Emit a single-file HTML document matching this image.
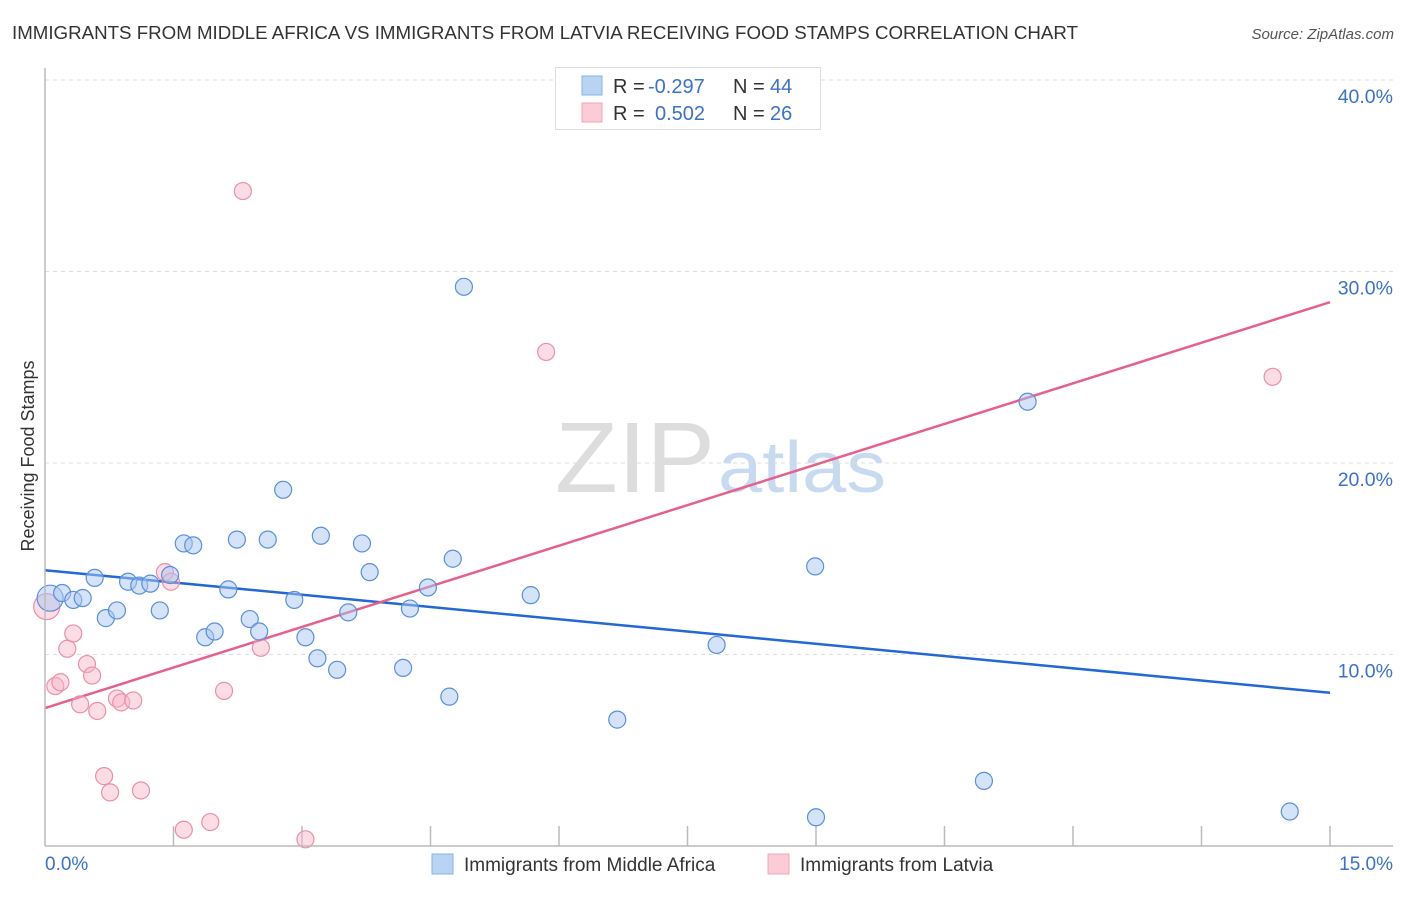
<!DOCTYPE html>
<html><head><meta charset="utf-8"><style>
body{margin:0;background:#fff;font-family:"Liberation Sans",sans-serif}
svg text{font-family:"Liberation Sans",sans-serif}
</style></head><body>
<svg id="chart" width="1406" height="892" xmlns="http://www.w3.org/2000/svg">
<text x="12" y="39" font-size="18" fill="#333" textLength="1066" lengthAdjust="spacingAndGlyphs">IMMIGRANTS FROM MIDDLE AFRICA VS IMMIGRANTS FROM LATVIA RECEIVING FOOD STAMPS CORRELATION CHART</text>
<text x="1394" y="39" font-size="15" fill="#555" font-style="italic" text-anchor="end">Source: ZipAtlas.com</text>
<text x="555" y="492" font-size="100" fill="#ddd" font-family="Liberation Serif" textLength="160" lengthAdjust="spacingAndGlyphs">ZIP</text>
<text x="718" y="492" font-size="72" fill="#c8daf0" textLength="168" lengthAdjust="spacingAndGlyphs">atlas</text>
<text transform="translate(34,456) rotate(-90)" font-size="18" fill="#333" text-anchor="middle">Receiving Food Stamps</text>
<g id="grid"></g><g id="ticks"></g><g id="lines"></g><g id="pts"></g>
<line x1="45" y1="68" x2="45" y2="846" stroke="#bbb" stroke-width="1.5"/>
<line x1="45" y1="846" x2="1393" y2="846" stroke="#bbb" stroke-width="1.5"/>
<text x="45" y="870" font-size="19" fill="#3a72c8">0.0%</text>
<text x="1393" y="870" font-size="19" fill="#3a72c8" text-anchor="end">15.0%</text>
<g>
<rect x="555.5" y="67.5" width="265" height="62" fill="#fff" stroke="#ddd"/>
<rect x="582" y="76" width="20" height="19" fill="#b9d3f3" stroke="#8ab2e6"/>
<rect x="582" y="103" width="20" height="19" fill="#fccbd8" stroke="#f0a6ba"/>
<text x="613" y="93" font-size="20" fill="#333">R = <tspan x="648" fill="#3a72c8">-0.297</tspan><tspan x="733">N = </tspan><tspan x="770" fill="#3a72c8">44</tspan></text>
<text x="613" y="120" font-size="20" fill="#333">R = <tspan x="655" fill="#3a72c8">0.502</tspan><tspan x="733">N = </tspan><tspan x="770" fill="#3a72c8">26</tspan></text>
</g>
<g>
<rect x="432" y="854" width="21" height="20" fill="#b9d3f3" stroke="#8ab2e6"/>
<text x="464" y="871" font-size="19" fill="#333">Immigrants from Middle Africa</text>
<rect x="768" y="854" width="21" height="20" fill="#fccbd8" stroke="#f0a6ba"/>
<text x="800" y="871" font-size="19" fill="#333">Immigrants from Latvia</text>
</g>
</svg>
<script>
const yTicks=[10,20,30,40];
const yTickLabels=["10.0%","20.0%","30.0%","40.0%"];
const xTicks=[1.5,3,4.5,6,7.5,9,10.5,12,13.5,15];
const blueX=[0.06,0.20,0.33,0.44,0.58,0.71,0.84,0.97,1.10,1.23,1.34,1.46,1.62,1.73,1.87,1.98,2.14,2.24,2.39,2.50,2.60,2.78,2.91,3.04,3.18,3.22,3.41,3.54,3.70,3.79,4.18,4.26,4.47,4.72,4.76,4.89,5.67,6.68,7.84,8.99,9.00,10.96,11.47,14.53];
const blueY=[12.94,13.21,12.85,12.95,14.0,11.9,12.3,13.8,13.6,13.7,12.3,14.15,15.8,15.7,10.9,11.2,13.4,16.0,11.85,11.2,16.0,18.6,12.85,10.9,9.8,16.2,9.2,12.2,15.8,14.3,9.3,12.4,13.5,7.8,15.0,29.2,13.1,6.6,10.5,14.6,1.5,3.4,23.2,1.8];
const pinkX=[0.02,0.12,0.18,0.26,0.33,0.41,0.49,0.55,0.61,0.69,0.76,0.84,0.89,1.03,1.12,1.40,1.47,1.62,1.93,2.09,2.31,2.52,3.04,5.85,14.33];
const pinkY=[12.5,8.35,8.55,10.3,11.1,7.4,9.5,8.9,7.05,3.65,2.8,7.7,7.5,7.6,2.9,14.3,13.8,0.85,1.25,8.1,34.2,10.35,0.35,25.8,24.5];
const blueTrend=[14.4,8.0];
const pinkTrend=[7.2,28.4];
const NS="http://www.w3.org/2000/svg";
const X=v=>45+v/15*1285;
const Y=v=>846-v*19.15;
function mk(t,a,p){const e=document.createElementNS(NS,t);for(const k in a)e.setAttribute(k,a[k]);p.appendChild(e);return e;}
const grid=document.getElementById('grid'),ticks=document.getElementById('ticks'),lines=document.getElementById('lines'),pts=document.getElementById('pts');
yTicks.forEach((v,i)=>{
 const l=mk('line',{x1:45,x2:1393,y1:Y(v),y2:Y(v),stroke:'#ddd','stroke-dasharray':'4,4'},grid);
 
 
 const t=mk('text',{x:1393,y:Y(v)+23,'font-size':19.5,fill:'#3a72c8','text-anchor':'end'},grid);
 t.textContent=yTickLabels[i];
 
 
});
xTicks.forEach(v=>{
 const l=mk('line',{x1:X(v),x2:X(v),y1:826,y2:846,stroke:'#bbb','stroke-width':1.5},ticks);
 
 
});
function dots(xs,ys,fill,stroke,name){
 xs.forEach((x,i)=>{
  const r=(i===0)?13:8.5;
  const c=mk('circle',{cx:X(x),cy:Y(ys[i]),r:r,fill:fill,stroke:stroke,'stroke-width':1.2},pts);
  
  
 });
}
dots(pinkX,pinkY,'rgba(248,180,200,0.45)','#ea8fa9','point-latvia');
dots(blueX,blueY,'rgba(170,200,240,0.5)','#5b8fd9','point-middle-africa');
const bl=mk('line',{x1:X(0),x2:X(15),y1:Y(blueTrend[0]),y2:Y(blueTrend[1]),stroke:'#2468d4','stroke-width':2.5},lines);


const pl=mk('line',{x1:X(0),x2:X(15),y1:Y(pinkTrend[0]),y2:Y(pinkTrend[1]),stroke:'#e5618c','stroke-width':2.5},lines);


</script>
</body></html>
